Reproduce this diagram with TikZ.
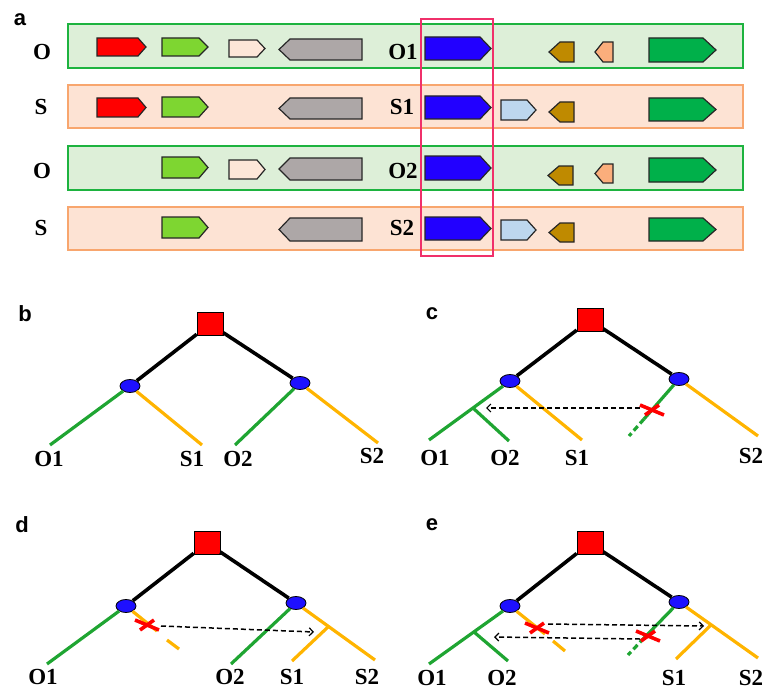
\documentclass[tikz,border=0pt]{standalone}
\usepackage{fontspec}
\setmainfont{Liberation Serif}
\newfontfamily\panelfont{Liberation Sans}
\usetikzlibrary{arrows.meta,shapes.geometric}

% colours
\definecolor{rowgreenfill}{HTML}{DDEFD8}
\definecolor{rowgreenline}{HTML}{1DB33F}
\definecolor{roworangefill}{HTML}{FDE3D4}
\definecolor{roworangeline}{HTML}{F8A66E}
\definecolor{frameline}{HTML}{F0306A}
\definecolor{gred}{HTML}{FF0000}
\definecolor{glgreen}{HTML}{7ED631}
\definecolor{gpeach}{HTML}{FDE6D8}
\definecolor{ggray}{HTML}{ADA7A7}
\definecolor{gblue}{HTML}{2200FF}
\definecolor{glblue}{HTML}{BDD7EE}
\definecolor{gbrown}{HTML}{BF8A00}
\definecolor{gsalmon}{HTML}{FBAE7C}
\definecolor{gdgreen}{HTML}{00B04A}
\definecolor{treegreen}{HTML}{1FA532}
\definecolor{treeyellow}{HTML}{FFB400}
\definecolor{nodeblue}{HTML}{1E10FF}

\tikzset{
  gene/.style={draw=black!85, line width=1.2pt, line join=miter},
  rowO/.style={draw=rowgreenline, fill=rowgreenfill, line width=1.8pt},
  rowS/.style={draw=roworangeline, fill=roworangefill, line width=1.8pt},
  rowlabel/.style={font=\bfseries\fontsize{23}{23}\selectfont, inner sep=0pt},
  leaf/.style={font=\bfseries\fontsize{23}{23}\selectfont, inner sep=0pt},
  panel/.style={font=\panelfont\bfseries\fontsize{22}{22}\selectfont, inner sep=0pt},
  rootbox/.style={draw=black, line width=0.6pt, fill=gred, minimum width=26pt, minimum height=23pt, inner sep=0pt},
  innernode/.style={ellipse, draw=black, line width=0.8pt, fill=nodeblue, minimum width=20pt, minimum height=13pt, inner sep=0pt},
  blk/.style={line width=3.6pt, black},
  grn/.style={line width=3.2pt, treegreen},
  yel/.style={line width=3.2pt, treeyellow},
  grndash/.style={grn, dash pattern=on 6pt off 3.5pt},
  transfer/.style={line width=1.5pt, black, dash pattern=on 5pt off 3pt, -{Straight Barb[length=4pt,width=8pt,line width=1.2pt]}},
  xmark/.style={line width=3.6pt, red},
}

% forward gene: x start, tip start, tip, y top, y bottom, colour
\newcommand\genefwd[6]{%
  \draw[gene, fill=#6] (#1,#4) -- (#2,#4) -- (#3,{(#4+#5)/2}) -- (#2,#5) -- (#1,#5) -- cycle;}
% reverse gene: tip, tip end, x end, y top, y bottom, colour
\newcommand\generev[6]{%
  \draw[gene, fill=#6] (#1,{(#4+#5)/2}) -- (#2,#4) -- (#3,#4) -- (#3,#5) -- (#2,#5) -- cycle;}
% red cross marking a lost branch
\newcommand\lossmark[1]{%
  \draw[xmark] (#1) ++(-12,-5) -- ++(24,10);
  \draw[xmark] (#1) ++(-7,5) -- ++(14,-10);}

\begin{document}
\begin{tikzpicture}[x=1pt, y=-1pt]
\useasboundingbox (0,0) rectangle (765,690);

% ---------------- panel a: gene neighbourhoods ----------------
\node[panel] (pa) at (20,20) {a};

\draw[rowO] (68,24) rectangle (743,68);
\draw[rowS] (68,85) rectangle (743,128);
\draw[rowO] (68,146) rectangle (743,190);
\draw[rowS] (68,207) rectangle (743,250);

\node[rowlabel] (la1) at (42,52) {O};
\node[rowlabel] (la2) at (41,107) {S};
\node[rowlabel] (la3) at (42,171) {O};
\node[rowlabel] (la4) at (41,228) {S};

\node[rowlabel] (lb1) at (403,52) {O1};
\node[rowlabel] (lb2) at (402,107) {S1};
\node[rowlabel] (lb3) at (403,171) {O2};
\node[rowlabel] (lb4) at (402,228) {S2};

% row 1
\genefwd{97}{138}{146}{38}{56}{gred}
\genefwd{162}{199}{208}{38}{56}{glgreen}
\genefwd{229}{257}{265}{40}{57}{gpeach}
\generev{279}{290}{362}{39}{60}{ggray}
\genefwd{425}{480}{491}{37}{60}{gblue}
\generev{549}{560}{574}{42}{62}{gbrown}
\generev{595}{603}{613}{42}{62}{gsalmon}
\genefwd{649}{703}{716}{38}{62}{gdgreen}
% row 2
\genefwd{97}{138}{146}{98}{117}{gred}
\genefwd{162}{199}{208}{97}{117}{glgreen}
\generev{279}{290}{362}{98}{119}{ggray}
\genefwd{425}{480}{491}{96}{119}{gblue}
\genefwd{501}{527}{536}{100}{120}{glblue}
\generev{549}{560}{574}{102}{122}{gbrown}
\genefwd{649}{703}{716}{98}{121}{gdgreen}
% row 3
\genefwd{162}{199}{208}{157}{178}{glgreen}
\genefwd{229}{257}{265}{160}{179}{gpeach}
\generev{279}{290}{362}{158}{180}{ggray}
\genefwd{425}{480}{491}{156}{180}{gblue}
\generev{548}{559}{573}{166}{185}{gbrown}
\generev{595}{603}{613}{164}{183}{gsalmon}
\genefwd{649}{703}{716}{158}{182}{gdgreen}
% row 4
\genefwd{162}{199}{208}{217}{238}{glgreen}
\generev{279}{290}{362}{218}{241}{ggray}
\genefwd{425}{480}{491}{217}{240}{gblue}
\genefwd{501}{527}{536}{220}{240}{glblue}
\generev{549}{560}{574}{223}{242}{gbrown}
\genefwd{649}{703}{716}{218}{241}{gdgreen}

% frame around the homologous genes
\draw[frameline, line width=1.4pt] (421,19) rectangle (493,256);

% ---------------- panel b ----------------
\node[panel] (pb) at (25,314) {b};
\node[rootbox] (bR) at (210,324) {};
\node[innernode] (bL) at (130,386) {};
\node[innernode] (bRt) at (300,383) {};
\coordinate (bO1) at (50,445);
\coordinate (bS1) at (202,445);
\coordinate (bO2) at (235,445);
\coordinate (bS2) at (378,443);
\draw[blk] (bR) -- (bL);
\draw[blk] (bR) -- (bRt);
\draw[grn] (bL) -- (bO1);
\draw[yel] (bL) -- (bS1);
\draw[grn] (bRt) -- (bO2);
\draw[yel] (bRt) -- (bS2);
\node[leaf] (tbO1) at (49,459) {O1};
\node[leaf] (tbS1) at (192,459) {S1};
\node[leaf] (tbO2) at (238,459) {O2};
\node[leaf] (tbS2) at (372,456) {S2};

% ---------------- panel c ----------------
\node[panel] (pc) at (432,314) {c};
\node[rootbox] (cR) at (590,320) {};
\node[innernode] (cL) at (510,381) {};
\node[innernode] (cRt) at (679,379) {};
\coordinate (cO1) at (429,440);
\coordinate (cB) at (473,408);
\coordinate (cO2) at (509,441);
\coordinate (cS1) at (582,440);
\coordinate (cG) at (644,419);
\coordinate (cGe) at (629,436);
\coordinate (cS2) at (758,436);
\coordinate (cX) at (652,410);
\coordinate (cA1) at (640,408);
\coordinate (cA2) at (486,408);
\draw[blk] (cR) -- (cL);
\draw[blk] (cR) -- (cRt);
\draw[grn] (cL) -- (cO1);
\draw[grn] (cB) -- (cO2);
\draw[yel] (cL) -- (cS1);
\draw[grn] (cRt) -- (cG);
\draw[grndash] (cG) -- (cGe);
\draw[yel] (cRt) -- (cS2);
\draw[transfer] (cA1) -- (cA2);
\lossmark{cX}
\node[leaf] (tcO1) at (435,458) {O1};
\node[leaf] (tcO2) at (505,458) {O2};
\node[leaf] (tcS1) at (577,458) {S1};
\node[leaf] (tcS2) at (751,456) {S2};

% ---------------- panel d ----------------
\node[panel] (pd) at (22,525) {d};
\node[rootbox] (dR) at (207,543) {};
\node[innernode] (dL) at (126,606) {};
\node[innernode] (dRt) at (296,603) {};
\coordinate (dO1) at (47,664);
\coordinate (dY) at (157,631);
\coordinate (dYa) at (167,640);
\coordinate (dYe) at (179,649);
\coordinate (dO2) at (231,664);
\coordinate (dS2) at (375,660);
\coordinate (dB) at (328,627);
\coordinate (dS1) at (292,661);
\coordinate (dX) at (147,625);
\coordinate (dA1) at (161,626);
\coordinate (dA2) at (314,632);
\draw[blk] (dR) -- (dL);
\draw[blk] (dR) -- (dRt);
\draw[grn] (dL) -- (dO1);
\draw[yel] (dL) -- (dY);
\draw[yel] (dYa) -- (dYe);
\draw[grn] (dRt) -- (dO2);
\draw[yel] (dRt) -- (dS2);
\draw[yel] (dB) -- (dS1);
\draw[transfer] (dA1) -- (dA2);
\lossmark{dX}
\node[leaf] (tdO1) at (43,677) {O1};
\node[leaf] (tdO2) at (230,677) {O2};
\node[leaf] (tdS1) at (292,677) {S1};
\node[leaf] (tdS2) at (367,677) {S2};

% ---------------- panel e ----------------
\node[panel] (pe) at (432,525) {e};
\node[rootbox] (eR) at (590,543) {};
\node[innernode] (eL) at (510,606) {};
\node[innernode] (eRt) at (679,602) {};
\coordinate (eO1) at (429,664);
\coordinate (eB) at (474,632);
\coordinate (eO2) at (508,661);
\coordinate (eY) at (545,634);
\coordinate (eYa) at (553,641);
\coordinate (eYe) at (565,651);
\coordinate (eG) at (644,638);
\coordinate (eGe) at (628,655);
\coordinate (eS2) at (758,658);
\coordinate (eBr) at (711,625);
\coordinate (eS1) at (676,659);
\coordinate (eX1) at (537,628);
\coordinate (eX2) at (648,636);
\coordinate (eA1) at (548,624);
\coordinate (eA2) at (704,626);
\coordinate (eA3) at (640,639);
\coordinate (eA4) at (494,637);
\draw[blk] (eR) -- (eL);
\draw[blk] (eR) -- (eRt);
\draw[grn] (eL) -- (eO1);
\draw[grn] (eB) -- (eO2);
\draw[yel] (eL) -- (eY);
\draw[yel] (eYa) -- (eYe);
\draw[grn] (eRt) -- (eG);
\draw[grndash] (eG) -- (eGe);
\draw[yel] (eRt) -- (eS2);
\draw[yel] (eBr) -- (eS1);
\draw[transfer] (eA1) -- (eA2);
\draw[transfer] (eA3) -- (eA4);
\lossmark{eX1}
\lossmark{eX2}
\node[leaf] (teO1) at (432,678) {O1};
\node[leaf] (teO2) at (502,678) {O2};
\node[leaf] (teS1) at (674,678) {S1};
\node[leaf] (teS2) at (751,678) {S2};
\end{tikzpicture}
\end{document}
